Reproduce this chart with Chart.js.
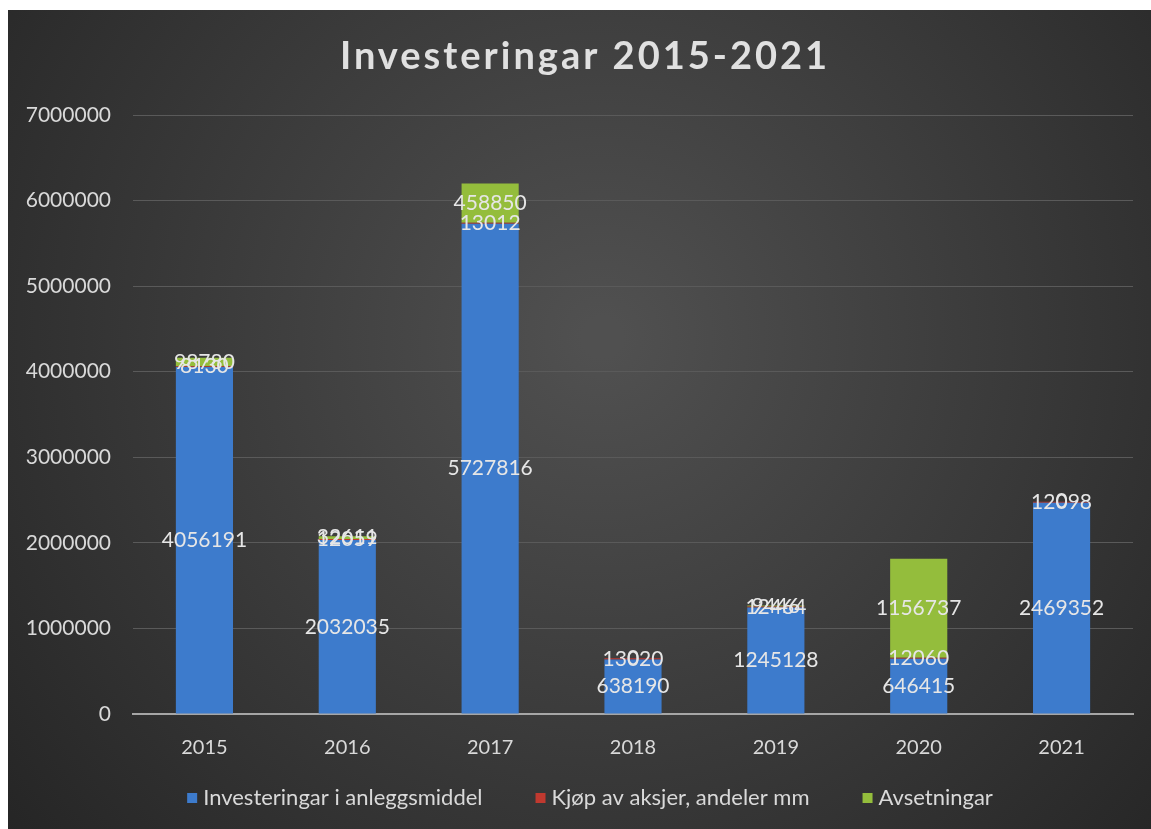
<!DOCTYPE html>
<html lang="no">
<head>
    <meta charset="UTF-8">
    <title>Investeringar 2015-2021</title>
    <script src="https://cdn.jsdelivr.net/npm/chart.js"></script>
    <style>
        body {
            margin: 0;
            padding: 0;
            background-color: #ffffff;
        }
        .panel {
            position: absolute;
            left: 8px;
            top: 10px;
            width: 1143px;
            height: 819px;
        }
    </style>
</head>
<body>
    <div class="panel">
        <canvas id="invChart" width="1143" height="819"></canvas>
    </div>

    <script>
        const years = ['2015', '2016', '2017', '2018', '2019', '2020', '2021'];
        const anleggsmiddel = [4056191, 2032035, 5727816, 638190, 1245128, 646415, 2469352];
        const aksjer = [8130, 12059, 13012, 13020, 12464, 12060, 12098];
        const avsetningar = [98780, 32611, 458850, 0, 9446, 1156737, 0];
        const yTicks = [0, 1000000, 2000000, 3000000, 4000000, 5000000, 6000000, 7000000];

        const FONT = 'Lato, "Open Sans", sans-serif';
        const TEXT = '#d9d9d9';
        const SOLID = ['#3d7bcc', '#c0392f', '#94bd3c'];

        // bevel-ish horizontal gradient for each bar
        function barFill(light, mid, dark) {
            return function(c) {
                const el = c.element;
                if (!el || el.x === undefined) return mid;
                const w = el.width || 57;
                const g = c.chart.ctx.createLinearGradient(el.x - w / 2, 0, el.x + w / 2, 0);
                g.addColorStop(0, dark);
                g.addColorStop(0.1, mid);
                g.addColorStop(0.5, light);
                g.addColorStop(0.9, mid);
                g.addColorStop(1, dark);
                return g;
            };
        }

        // dark radial background
        const bgPlugin = {
            id: 'bg',
            beforeDraw(chart) {
                const ctx = chart.ctx;
                const w = chart.width, h = chart.height;
                const g = ctx.createRadialGradient(w * 0.52, h * 0.4, 20, w * 0.52, h * 0.4, w * 0.68);
                g.addColorStop(0, '#505050');
                g.addColorStop(1, '#252525');
                ctx.save();
                ctx.fillStyle = g;
                ctx.fillRect(0, 0, w, h);
                ctx.restore();
            }
        };

        // value labels centred in each segment
        const valueLabels = {
            id: 'valueLabels',
            afterDatasetsDraw(chart) {
                const ctx = chart.ctx;
                ctx.save();
                ctx.font = '21px ' + FONT;
                ctx.fillStyle = '#e6e6e6';
                ctx.textAlign = 'center';
                ctx.textBaseline = 'middle';
                chart.data.datasets.forEach((ds, i) => {
                    const meta = chart.getDatasetMeta(i);
                    meta.data.forEach((bar, j) => {
                        const y = (bar.y + bar.base) / 2;
                        ctx.fillText(String(ds.data[j]), bar.x, y);
                    });
                });
                ctx.restore();
            }
        };

        // spaced bold title and the bottom legend
        const titleLegend = {
            id: 'titleLegend',
            afterDraw(chart) {
                const ctx = chart.ctx;
                ctx.save();
                ctx.font = 'bold 38px ' + FONT;
                ctx.fillStyle = '#e0e0e0';
                ctx.textAlign = 'center';
                ctx.textBaseline = 'middle';
                ctx.letterSpacing = '3px';
                ctx.fillText('Investeringar 2015-2021', 577, 47);
                ctx.restore();

                ctx.save();
                ctx.font = '22px ' + FONT;
                ctx.textBaseline = 'middle';
                const box = 10, gapIn = 6, gapOut = 53, cy = 788;
                const labels = chart.data.datasets.map(d => d.label);
                const widths = labels.map(t => ctx.measureText(t).width);
                const total = widths.reduce((a, w) => a + box + gapIn + w, 0) + gapOut * (labels.length - 1);
                let x = 582 - total / 2;
                labels.forEach((t, i) => {
                    ctx.fillStyle = SOLID[i];
                    ctx.fillRect(x, cy - box / 2, box, box);
                    x += box + gapIn;
                    ctx.fillStyle = TEXT;
                    ctx.fillText(t, x, cy);
                    x += widths[i] + gapOut;
                });
                ctx.restore();
            }
        };

        const ctx = document.getElementById('invChart').getContext('2d');
        new Chart(ctx, {
            type: 'bar',
            data: {
                labels: years,
                datasets: [
                    {
                        label: 'Investeringar i anleggsmiddel',
                        data: anleggsmiddel,
                        backgroundColor: barFill('#4b90e2', '#3d7bcc', '#2a5a9c')
                    },
                    {
                        label: 'Kjøp av aksjer, andeler mm',
                        data: aksjer,
                        backgroundColor: barFill('#d84a45', '#c0392f', '#8e2520')
                    },
                    {
                        label: 'Avsetningar',
                        data: avsetningar,
                        backgroundColor: barFill('#abd24a', '#94bd3c', '#6a8c25')
                    }
                ]
            },
            options: {
                responsive: false,
                animation: false,
                categoryPercentage: 0.8,
                barPercentage: 0.5,
                layout: {
                    padding: { top: 105, right: 18, left: 8, bottom: 55 }
                },
                plugins: {
                    title: { display: false },
                    tooltip: { enabled: false },
                    legend: { display: false }
                },
                scales: {
                    x: {
                        stacked: true,
                        grid: { display: false },
                        border: { color: '#a6a6a6', width: 2 },
                        ticks: {
                            color: TEXT,
                            font: { family: FONT, size: 20 },
                            padding: 14
                        }
                    },
                    y: {
                        stacked: true,
                        min: 0,
                        max: 7000000,
                        afterBuildTicks(axis) {
                            axis.ticks = yTicks.map(v => ({ value: v }));
                        },
                        afterFit(axis) {
                            axis.width = 117;
                        },
                        grid: { color: '#5a5a5a', lineWidth: 1, drawTicks: false },
                        border: { display: false },
                        ticks: {
                            color: TEXT,
                            font: { family: FONT, size: 21 },
                            padding: 22,
                            callback: v => String(v)
                        }
                    }
                }
            },
            plugins: [bgPlugin, valueLabels, titleLegend]
        });
    </script>
</body>
</html>
